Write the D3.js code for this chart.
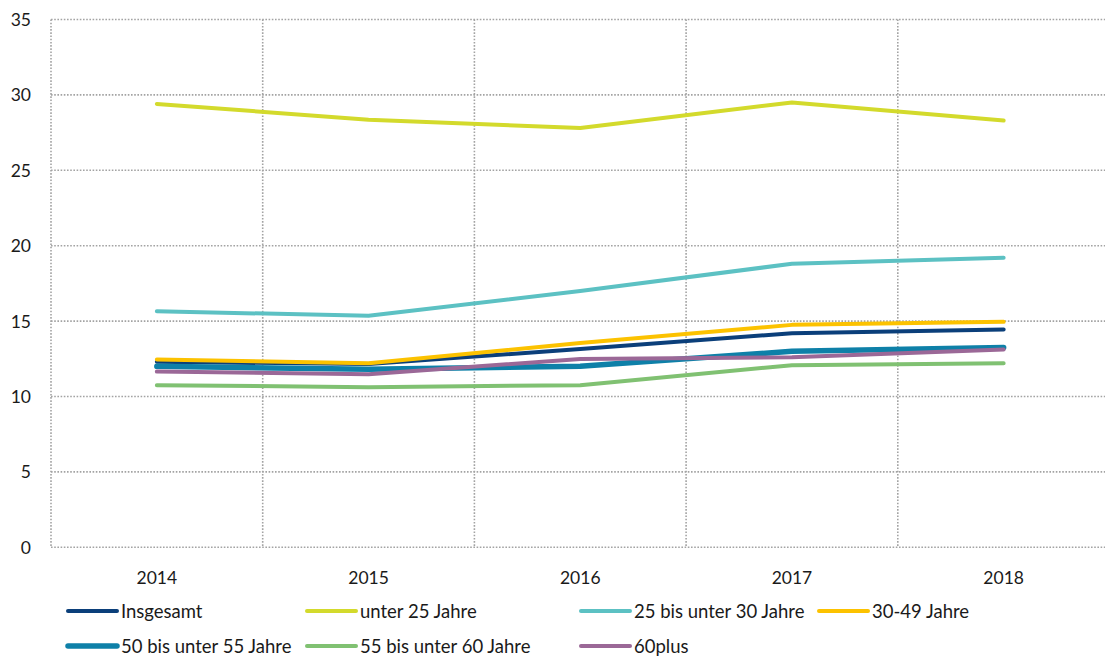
<!DOCTYPE html>
<html>
<head>
<meta charset="utf-8">
<script src="https://cdn.jsdelivr.net/npm/d3@7"></script>
<style>
  body { margin: 0; background: #fff; }
  svg text { font-family: Lato, "Open Sans", sans-serif; fill: #1a1a1a; }
</style>
</head>
<body>
<svg id="s" width="1105" height="659"></svg>
<script>
const years = ['2014', '2015', '2016', '2017', '2018'];
const yTicks = [0, 5, 10, 15, 20, 25, 30, 35];

const insgesamt = [12.3, 12.15, 13.15, 14.2, 14.45];
const unter25 = [29.4, 28.35, 27.8, 29.5, 28.3];
const bis30 = [15.65, 15.35, 17.0, 18.8, 19.2];
const j3049 = [12.45, 12.2, 13.55, 14.75, 14.95];
const bis55 = [12.0, 11.8, 12.0, 13.0, 13.25];
const bis60 = [10.75, 10.62, 10.75, 12.08, 12.2];
const plus60 = [11.65, 11.48, 12.48, 12.6, 13.12];

const series = [
  { name: 'Insgesamt', values: insgesamt, color: '#0b3f7a', w: 4 },
  { name: 'unter 25 Jahre', values: unter25, color: '#d3da2c', w: 4 },
  { name: '25 bis unter 30 Jahre', values: bis30, color: '#5cc1c3', w: 4 },
  { name: '30-49 Jahre', values: j3049, color: '#fcc200', w: 4 },
  { name: '50 bis unter 55 Jahre', values: bis55, color: '#0e80a8', w: 5.5 },
  { name: '55 bis unter 60 Jahre', values: bis60, color: '#80c172', w: 4 },
  { name: '60plus', values: plus60, color: '#9b6897', w: 4 },
];

const svg = d3.select('#s');
const plot = { left: 51, right: 1109.5, top: 19.5, bottom: 547.3 };

const x = d3.scaleBand().domain(years).range([plot.left, plot.right]);
const y = d3.scaleLinear().domain([0, 35]).range([plot.bottom, plot.top]);

const grid = svg.append('g')
  .attr('stroke', '#a3a3a3')
  .attr('stroke-width', 1.6)
  .attr('stroke-dasharray', '1.6 1.6')
  .attr('fill', 'none');

grid.selectAll('.h')
  .data(yTicks)
  .enter()
  .append('line')
  .attr('x1', plot.left)
  .attr('x2', plot.right)
  .attr('y1', d => y(d))
  .attr('y2', d => y(d));

grid.selectAll('.v')
  .data(years)
  .enter()
  .append('line')
  .attr('x1', d => x(d))
  .attr('x2', d => x(d))
  .attr('y1', plot.top)
  .attr('y2', plot.bottom);

svg.append('g')
  .selectAll('text')
  .data(yTicks)
  .enter()
  .append('text')
  .attr('x', 31)
  .attr('y', d => y(d) + 6.5)
  .attr('text-anchor', 'end')
  .attr('font-size', 17.5)
  .text(d => d);

svg.append('g')
  .selectAll('text')
  .data(years)
  .enter()
  .append('text')
  .attr('x', d => x(d) + x.bandwidth() / 2)
  .attr('y', 583.5)
  .attr('text-anchor', 'middle')
  .attr('font-size', 17.5)
  .text(d => d);

const line = d3.line()
  .x((v, i) => x(years[i]) + x.bandwidth() / 2)
  .y(v => y(v));

svg.append('g')
  .selectAll('path')
  .data(series)
  .enter()
  .append('path')
  .attr('d', d => line(d.values))
  .attr('fill', 'none')
  .attr('stroke', d => d.color)
  .attr('stroke-width', d => d.w)
  .attr('stroke-linecap', 'round')
  .attr('stroke-linejoin', 'round');

// legend, laid out like the Excel one
const legendPos = [
  [68, 611], [307, 611], [581, 611], [819, 611],
  [68, 646], [307, 646], [581, 646],
];
const lg = svg.append('g')
  .selectAll('g')
  .data(series)
  .enter()
  .append('g')
  .attr('transform', (d, i) => `translate(${legendPos[i][0]},${legendPos[i][1]})`);

lg.append('line')
  .attr('x1', 0)
  .attr('x2', 49)
  .attr('stroke', d => d.color)
  .attr('stroke-width', d => d.w)
  .attr('stroke-linecap', 'round');

lg.append('text')
  .attr('x', 53)
  .attr('y', 6.5)
  .attr('font-size', 18.5)
  .text(d => d.name);
</script>
</body>
</html>
